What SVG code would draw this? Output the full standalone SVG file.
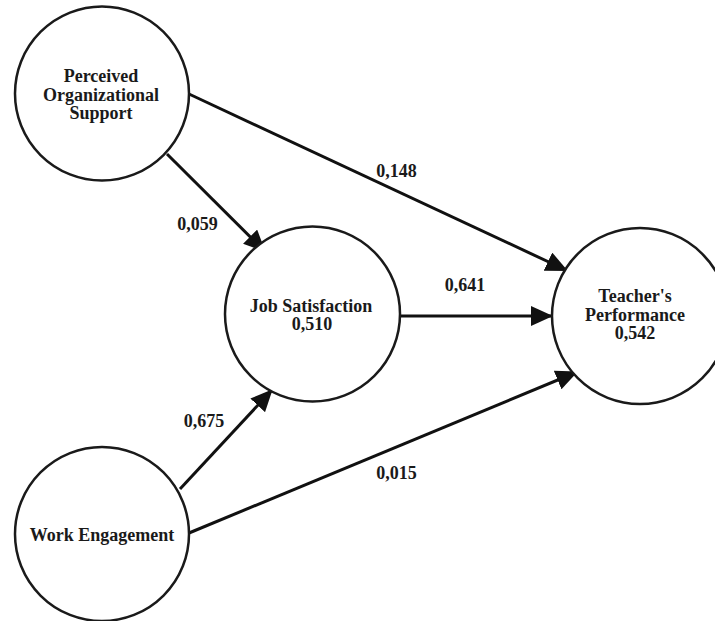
<svg xmlns="http://www.w3.org/2000/svg" width="715" height="621" viewBox="0 0 715 621">
<style>
.node{fill:#fff;stroke:#1a1a1a;stroke-width:2.5}
.lbl{font-family:"Liberation Serif","Times New Roman",serif;font-size:18px;font-weight:bold;fill:#1a1a1a;text-anchor:middle}
.edge{stroke:#111;stroke-width:3;fill:none;marker-end:url(#arr)}
</style>
<defs>
<marker id="arr" markerUnits="userSpaceOnUse" markerWidth="22" markerHeight="20" refX="21" refY="10" orient="auto">
<path d="M0,0 L22,10 L0,20 Z" fill="#111"/>
</marker>
</defs>
<rect width="715" height="621" fill="#fff"/>
<g id="connectors">
<line class="edge" x1="167" y1="154" x2="265" y2="251.5"/>
<line class="edge" x1="189" y1="94" x2="567" y2="270.5"/>
<line class="edge" x1="399" y1="316" x2="552" y2="316"/>
<line class="edge" x1="180" y1="489" x2="272" y2="390"/>
<line class="edge" x1="189" y1="533" x2="577" y2="372"/>
<text class="lbl" x="197.5" y="230">0,059</text>
<text class="lbl" x="396.5" y="177">0,148</text>
<text class="lbl" x="465" y="291">0,641</text>
<text class="lbl" x="204" y="427">0,675</text>
<text class="lbl" x="396.5" y="479">0,015</text>
</g>
<g id="pos">
<circle class="node" cx="102" cy="93.5" r="87"/>
<text class="lbl" x="101" y="82">Perceived</text>
<text class="lbl" x="101" y="100.5">Organizational</text>
<text class="lbl" x="101" y="119">Support</text>
</g>
<g id="js">
<circle class="node" cx="312.5" cy="314" r="87.5"/>
<text class="lbl" x="311" y="311.5">Job Satisfaction</text>
<text class="lbl" x="312" y="329.5">0,510</text>
</g>
<g id="tp">
<circle class="node" cx="640" cy="316" r="88"/>
<text class="lbl" x="635" y="302">Teacher's</text>
<text class="lbl" x="635" y="320.5">Performance</text>
<text class="lbl" x="635" y="339">0,542</text>
</g>
<g id="we">
<circle class="node" cx="102" cy="534" r="87"/>
<text class="lbl" x="102" y="541">Work Engagement</text>
</g>
</svg>
